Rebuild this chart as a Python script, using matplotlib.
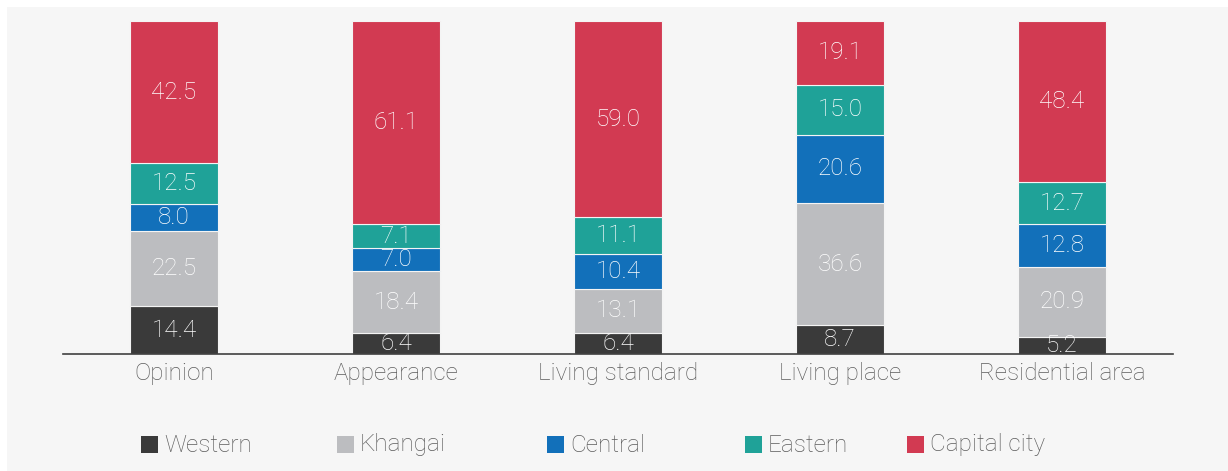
import numpy as np
import matplotlib.pyplot as plt
from matplotlib.patches import Rectangle

plt.rcParams['font.family'] = ['Roboto', 'DejaVu Sans']

categories = ['Opinion', 'Appearance', 'Living standard', 'Living place', 'Residential area']
regions = ['Western', 'Khangai', 'Central', 'Eastern', 'Capital city']
western = [14.4, 6.4, 6.4, 8.7, 5.2]
khangai = [22.5, 18.4, 13.1, 36.6, 20.9]
central = [8.0, 7.0, 10.4, 20.6, 12.8]
eastern = [12.5, 7.1, 11.1, 15.0, 12.7]
capital = [42.5, 61.1, 59.0, 19.1, 48.4]
colors = ['#3a3a3a', '#bcbdc0', '#1270ba', '#1fa298', '#d23a52']

W, H = 1228, 471
fig = plt.figure(figsize=(W / 100, H / 100), dpi=100, facecolor='white')
# light grey panel behind everything
fig.patches.append(Rectangle((7 / W, 0), 1 - 7 / W, (H - 7) / H,
                             transform=fig.transFigure, facecolor='#f6f6f6',
                             edgecolor='none', zorder=-10))

ax = fig.add_axes([63 / W, (H - 354) / H, (1173 - 63) / W, (354 - 21) / H])
ax.set_facecolor('none')

x = np.arange(len(categories))
bottom = np.zeros(len(categories))
for name, vals, c in zip(regions, [western, khangai, central, eastern, capital], colors):
    vals = np.array(vals)
    ax.bar(x, vals, 0.4, bottom=bottom, color=c, edgecolor='#f4f4f4',
           linewidth=0.8, label=name)
    for xi, b, v in zip(x, bottom, vals):
        ax.text(xi, b + v / 2, f'{v:.1f}', ha='center', va='center',
                color='white', fontsize=17.5, fontweight='light')
    bottom += vals

ax.set_xlim(-0.5, 4.5)
ax.set_ylim(0, 100)
ax.set_xticks(x)
ax.set_xticklabels(categories, fontsize=17.5, fontweight='light', color='#5c5c5c')
ax.tick_params(axis='x', length=0, pad=6)
ax.set_yticks([])
for s in ['top', 'right', 'left']:
    ax.spines[s].set_visible(False)
ax.spines['bottom'].set_color('#404040')
ax.spines['bottom'].set_linewidth(1.2)

# legend row
legend_x = [141, 337, 547, 745, 907]
for lx, name, c in zip(legend_x, regions, colors):
    fig.patches.append(Rectangle((lx / W, (H - 453) / H), 17 / W, 17 / H,
                                 transform=fig.transFigure, facecolor=c,
                                 edgecolor='none'))
    fig.text((lx + 23) / W, (H - 445) / H, name, ha='left', va='center',
             fontsize=17.5, fontweight='light', color='#5c5c5c')

fig.savefig('out.png', dpi=100, facecolor=fig.get_facecolor())
